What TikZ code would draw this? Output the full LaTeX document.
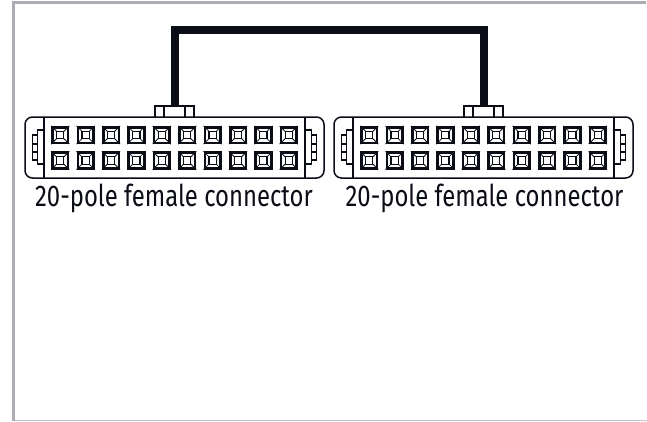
\documentclass[tikz,border=0pt]{standalone}
\usepackage{fontspec}
\setmainfont{Fira Sans}
\definecolor{framegray}{RGB}{172,172,180}
\definecolor{wireblack}{RGB}{10,12,22}
\tikzset{
    frameline/.style = {line width=3.4pt,draw=framegray},
    bottomline/.style = {line width=1pt,draw=framegray!70},
    wire/.style = {line width=8pt,draw=wireblack,line join=miter},
    shell/.style = {line width=1.5pt,draw=wireblack},
    pinbox/.style = {rectangle,draw=wireblack,line width=2.6pt,minimum size=15.6pt,inner sep=0pt},
    pinface/.style = {line width=1.1pt,draw=wireblack},
    polelabel/.style = {font=\fontsize{30}{30}\selectfont,text=wireblack,xscale=0.795,inner sep=0pt},
    pole/.pic = {
      % body, origin at the middle of the upper edge
      \draw[shell,rounded corners=7.5pt] (-125,0) -- (-149.5,0) -- (-149.5,61) -- (149.5,61) -- (149.5,0) -- (-125,0);
      \draw[shell] (-130.5,0) -- (-130.5,61);
      \draw[shell] (130.5,0) -- (130.5,61);
      % latches
      \draw[shell] (-130.5,13) -- (-137,13) -- (-137,18) -- (-142,18) -- (-142,43) -- (-137,43) -- (-137,47) -- (-130.5,47);
      \draw[shell] (-137,18) -- (-137,43);
      \draw[shell] (-142,27) -- (-137,27);
      \draw[shell] (-142,35) -- (-137,35);
      \draw[shell] (130.5,13) -- (137,13) -- (137,18) -- (142,18) -- (142,43) -- (137,43) -- (137,47) -- (130.5,47);
      \draw[shell] (137,18) -- (137,43);
      \draw[shell] (142,27) -- (137,27);
      \draw[shell] (142,35) -- (137,35);
      % key on top
      \draw[shell] (-19.5,0) -- (-19.5,-11) -- (19.5,-11) -- (19.5,0);
      \draw[shell] (-10.5,-11) -- (-10.5,0);
      \draw[shell] (10.5,-11) -- (10.5,0);
      \coordinate (-key) at (0,-11);
      % twenty pins
      \foreach \col in {0,...,9} {
        \foreach \row/\y in {a/18,b/43.5} {
          \node[pinbox] (-pin\row\col) at (-114.3+\col*25.4,\y) {};
          \draw[pinface] (-114.3+\col*25.4-3.6,\y-3.6) rectangle (-114.3+\col*25.4+3.6,\y+3.6);
          \draw[pinface,line width=0.8pt] (-pin\row\col.north west) -- ++(5.5,5.5);
          \draw[pinface,line width=0.8pt] (-pin\row\col.north east) -- ++(-5.5,5.5);
          \draw[pinface,line width=0.8pt] (-pin\row\col.south west) -- ++(5.5,-5.5);
          \draw[pinface,line width=0.8pt] (-pin\row\col.south east) -- ++(-5.5,-5.5);
        }
      }
    }
}
\begin{document}
\begin{tikzpicture}[x=1pt,y=-1pt]
  \useasboundingbox (0,0) rectangle (647,421);
  \draw[frameline] (13.5,421) -- (13.5,2.5) -- (645.5,2.5);
  \draw[bottomline] (15,420.5) -- (647,420.5);

  \pic (left) at (174.5,117) {pole};
  \pic (right) at (483.5,117) {pole};

  \coordinate (wiretop) at (330,29.5);
  \draw[wire] (left-key) |- (wiretop) -| (right-key);

  \node[polelabel] (leftlabel) at (174,198.5) {20-pole female connector};
  \node[polelabel] (rightlabel) at (484.5,198.5) {20-pole female connector};
\end{tikzpicture}
\end{document}
